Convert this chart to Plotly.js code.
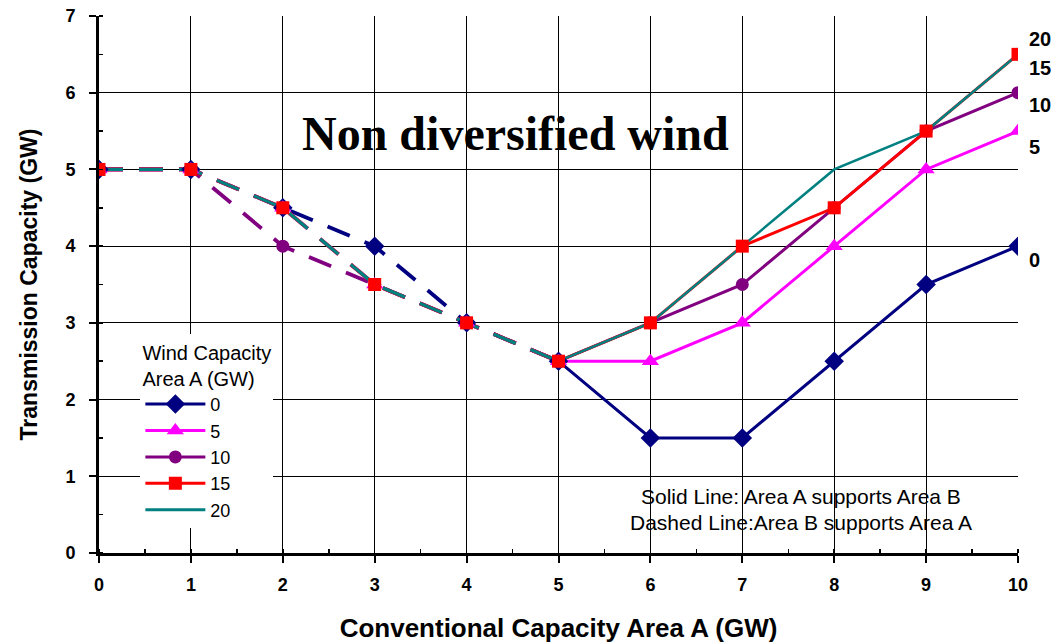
<!DOCTYPE html>
<html>
<head>
<meta charset="utf-8">
<script src="https://cdn.plot.ly/plotly-3.0.1.min.js"></script>
<style>html,body{margin:0;padding:0;background:#fff;}#chart{width:1054px;height:643px;}</style>
</head>
<body>
<div id="chart"></div>
<script>
// Conventional capacity in Area A (GW)
const xDashed = [0, 1, 2, 3, 4, 5];
const xSolid = [5, 6, 7, 8, 9, 10];

// Series names (wind capacity Area A, GW)
const seriesNames = ['0', '5', '10', '15', '20'];

// Dashed segment values (Area B supports Area A)
const dashed0  = [5, 5, 4.5, 4, 3, 2.5];
const dashed5  = [5, 5, 4.5, 3.5, 3, 2.5];
const dashed10 = [5, 5, 4, 3.5, 3, 2.5];
const dashed15 = [5, 5, 4.5, 3.5, 3, 2.5];
const dashed20 = [5, 5, 4.5, 3.5, 3, 2.5];

// Solid segment values (Area A supports Area B)
const solid0  = [2.5, 1.5, 1.5, 2.5, 3.5, 4];
const solid5  = [2.5, 2.5, 3, 4, 5, 5.5];
const solid10 = [2.5, 3, 3.5, 4.5, 5.5, 6];
const solid15 = [2.5, 3, 4, 4.5, 5.5, 6.5];
const solid20 = [2.5, 3, 4, 5, 5.5, 6.5];

const xTicks = [0,1,2,3,4,5,6,7,8,9,10];
const yTicks = [0,1,2,3,4,5,6,7];

const dashedAll = [dashed0, dashed5, dashed10, dashed15, dashed20];
const solidAll = [solid0, solid5, solid10, solid15, solid20];

const styles = [
  {color:'#000080', symbol:'diamond', size:15, width:3},
  {color:'#FF00FF', symbol:'triangle-up', size:15, width:3},
  {color:'#800080', symbol:'circle', size:13, width:3},
  {color:'#FF0000', symbol:'square', size:13, width:3},
  {color:'#008080', symbol:null, size:0, width:2.5}
];
const labelShift = [-14, -16, -12, -14, 15];
const FONT = 'Liberation Sans, Arial, sans-serif';

const traces = [];
// lines first
for (let i = 0; i < 5; i++) {
  const s = styles[i];
  traces.push({x:xDashed, y:dashedAll[i], mode:'lines', showlegend:false, hoverinfo:'skip',
    line:{color:s.color, width:s.width+0.8, dash:'24px,16px'}});
}
for (let i = 0; i < 5; i++) {
  const s = styles[i];
  traces.push({x:xSolid, y:solidAll[i], mode:'lines', showlegend:false, hoverinfo:'skip',
    line:{color:s.color, width:s.width}});
}
// markers on top
for (let i = 0; i < 4; i++) {
  const s = styles[i];
  traces.push({x:xDashed.concat(xSolid.slice(1)), y:dashedAll[i].concat(solidAll[i].slice(1)),
    mode:'markers', showlegend:false,
    marker:{color:s.color, symbol:s.symbol, size:s.size, line:{width:0}}});
}
// legend entries
for (let i = 0; i < 5; i++) {
  const s = styles[i];
  const t = {x:[null], y:[null], name:seriesNames[i], mode: s.symbol ? 'lines+markers' : 'lines',
    line:{color:s.color, width:3}};
  if (s.symbol) t.marker = {color:s.color, symbol:s.symbol, size:s.size};
  traces.push(t);
}

const annotations = [
  {text:'<b>Non diversified wind</b>', xref:'paper', yref:'paper', x:0.453, y:0.782,
   xanchor:'center', yanchor:'middle', showarrow:false,
   font:{family:'Liberation Serif, Times New Roman, serif', size:48, color:'#000'}},
  {text:'Solid Line: Area A supports Area B', xref:'paper', yref:'paper', x:0.764, y:0.106,
   xanchor:'center', yanchor:'middle', showarrow:false,
   font:{family:FONT, size:21, color:'#000'}},
  {text:'Dashed Line:Area B supports Area A', xref:'paper', yref:'paper', x:0.764, y:0.057,
   xanchor:'center', yanchor:'middle', showarrow:false,
   font:{family:FONT, size:21, color:'#000'}}
];
for (let i = 0; i < 5; i++) {
  const arr = solidAll[i];
  annotations.push({text:'<b>'+seriesNames[i]+'</b>', x:xSolid[xSolid.length-1], y:arr[arr.length-1],
    xref:'x', yref:'y', xanchor:'left', yanchor:'middle', xshift:9, yshift:labelShift[i],
    showarrow:false, font:{family:FONT, size:20, color:'#000'}});
}

const axisCommon = {
  showgrid:true, gridcolor:'#000', gridwidth:1,
  showline:true, linecolor:'#000', linewidth:3,
  ticks:'outside', ticklen:7, tickwidth:2, tickcolor:'#000',
  zeroline:false, mirror:false,
  tickfont:{family:FONT, size:18, color:'#000', weight:'bold'},
  minor:{dtick:0.5, ticks:'inside', ticklen:4, tickwidth:1.5, tickcolor:'#000', showgrid:false}
};

const layout = {
  width:1054, height:643,
  margin:{l:99, r:36, t:16, b:90},
  paper_bgcolor:'#fff', plot_bgcolor:'#fff',
  font:{family:FONT, color:'#000'},
  xaxis:Object.assign({}, axisCommon, {range:[0,10], tickvals:xTicks, ticktext:xTicks.map(String),
    ticklabelstandoff:6,
    title:{text:'Conventional Capacity Area A (GW)', standoff:32,
      font:{family:FONT, size:26, color:'#000', weight:'bold'}}}),
  yaxis:Object.assign({}, axisCommon, {range:[0,7], tickvals:yTicks, ticktext:yTicks.map(String),
    ticklabelstandoff:10,
    title:{text:'Transmission Capacity (GW)', standoff:22,
      font:{family:FONT, size:23, color:'#000', weight:'bold'}}}),
  showlegend:true,
  legend:{x:0.045, y:0.408, xanchor:'left', yanchor:'top', bgcolor:'#fff', borderwidth:0,
    font:{family:FONT, size:18, color:'#000'},
    title:{text:'Wind Capacity<br>Area A (GW)', side:'top center',
      font:{family:FONT, size:20, color:'#000'}},
    tracegroupgap:0, itemwidth:60},
  annotations:annotations
};

Plotly.newPlot('chart', traces, layout, {displayModeBar:false, staticPlot:true});
</script>
</body>
</html>
